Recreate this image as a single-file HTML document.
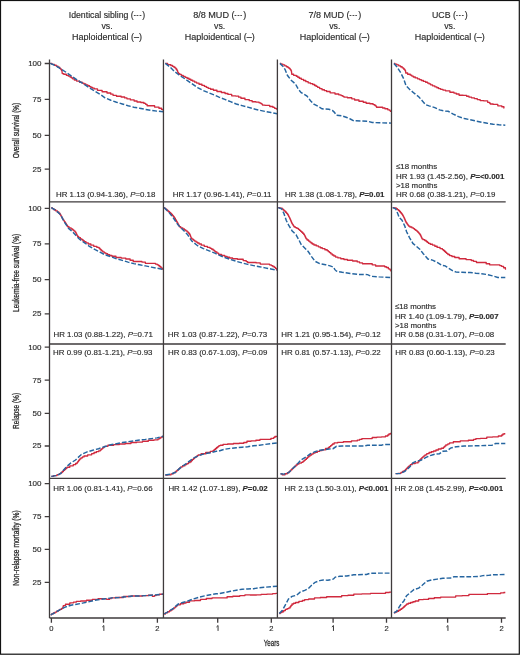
<!DOCTYPE html><html><head><meta charset="utf-8"><style>html,body{margin:0;padding:0;background:#fff;overflow:hidden;}svg{display:block;}text{stroke:#2b2b2b;stroke-width:0.15px;}</style></head><body>
<div style="width:520px;height:655px;will-change:transform;">
<svg width="520" height="655" viewBox="0 0 520 655" font-family="&quot;Liberation Sans&quot;, sans-serif">
<rect x="0" y="0" width="520" height="655" fill="#fff"/>
<text x="107.0" y="17.9" font-size="8.72" text-anchor="middle" fill="#2b2b2b">Identical sibling (<tspan font-size="5.8" font-weight="bold" letter-spacing="0.95" dy="-0.7">---</tspan><tspan dy="0.7">)</tspan></text>
<text x="107.0" y="28.9" font-size="8.8" text-anchor="middle" fill="#2b2b2b">vs.</text>
<text x="107.0" y="39.9" font-size="9.0" text-anchor="middle" fill="#2b2b2b">Haploidentical (–)</text>
<text x="219.7" y="17.9" font-size="9.1" text-anchor="middle" fill="#2b2b2b">8/8 MUD (<tspan font-size="5.8" font-weight="bold" letter-spacing="0.95" dy="-0.7">---</tspan><tspan dy="0.7">)</tspan></text>
<text x="219.7" y="28.9" font-size="8.8" text-anchor="middle" fill="#2b2b2b">vs.</text>
<text x="219.7" y="39.9" font-size="9.0" text-anchor="middle" fill="#2b2b2b">Haploidentical (–)</text>
<text x="334.8" y="17.9" font-size="9.04" text-anchor="middle" fill="#2b2b2b">7/8 MUD (<tspan font-size="5.8" font-weight="bold" letter-spacing="0.95" dy="-0.7">---</tspan><tspan dy="0.7">)</tspan></text>
<text x="334.8" y="28.9" font-size="8.8" text-anchor="middle" fill="#2b2b2b">vs.</text>
<text x="334.8" y="39.9" font-size="9.0" text-anchor="middle" fill="#2b2b2b">Haploidentical (–)</text>
<text x="449.8" y="17.9" font-size="8.8" text-anchor="middle" fill="#2b2b2b">UCB (<tspan font-size="5.8" font-weight="bold" letter-spacing="0.95" dy="-0.7">---</tspan><tspan dy="0.7">)</tspan></text>
<text x="449.8" y="28.9" font-size="8.8" text-anchor="middle" fill="#2b2b2b">vs.</text>
<text x="449.8" y="39.9" font-size="9.0" text-anchor="middle" fill="#2b2b2b">Haploidentical (–)</text>
<text transform="translate(19.3,130.6) rotate(-90) scale(0.713,1)" font-size="9.0" text-anchor="middle" fill="#2b2b2b" style="stroke-width:0.3px">Overall survival (%)</text>
<text transform="translate(19.3,272.9) rotate(-90) scale(0.731,1)" font-size="9.0" text-anchor="middle" fill="#2b2b2b" style="stroke-width:0.3px">Leukemia-free survival (%)</text>
<text transform="translate(19.3,410.9) rotate(-90) scale(0.73,1)" font-size="9.0" text-anchor="middle" fill="#2b2b2b" style="stroke-width:0.3px">Relapse (%)</text>
<text transform="translate(19.3,548.0) rotate(-90) scale(0.74,1)" font-size="9.0" text-anchor="middle" fill="#2b2b2b" style="stroke-width:0.3px">Non-relapse mortality (%)</text>
<path d="M50.20,63.40H51.90V64.30H53.60H54.48V65.20H56.23V66.10H57.10H57.95V67.25H59.65V68.40H60.50H60.85V69.45H61.55V70.50H61.90H61.97V71.53H62.10V72.57H62.23V73.60H62.30H63.75V74.20H65.20H66.35V75.30H67.50H68.35V76.15H70.05V77.00H70.90H71.48V77.90H72.62V78.80H73.20H74.35V79.95H76.65V81.10H77.80H79.55V82.20H81.30H82.17V83.10H83.92V84.00H84.80H85.80V84.85H87.80V85.70H88.80H89.53V86.55H90.97V87.40H91.70H92.58V88.15H94.33V88.90H95.20H97.50V90.30H99.80H102.10V91.70H104.40H107.00V93.00H109.60H110.75V94.15H113.05V95.30H114.20H116.50V96.20H118.80H121.15V97.00H123.50H124.65V97.90H126.95V98.80H128.10H130.40V99.90H132.70H134.15V100.95H137.05V102.00H138.50H140.80V102.50H143.10H143.95V103.40H145.65V104.30H146.50H147.10V105.70H147.70H150.00V105.70H152.30H154.60V107.10H156.90H158.95V108.20H161.00H161.55V109.40H162.10H162.70V109.70H163.30" fill="none" stroke="#d02a3e" stroke-width="1.35" stroke-linejoin="round"/>
<path d="M165.30,63.40H167.60V64.60H169.90H170.78V65.45H172.53V66.30H173.40H173.97V67.20H175.12V68.10H175.70H176.12V69.25H176.97V70.40H177.40H177.55V71.55H177.85V72.70H178.00H178.57V73.55H179.73V74.40H180.30H181.27V75.37H183.20V76.33H185.13V77.30H186.10H187.05V78.27H188.95V79.23H190.85V80.20H191.80H192.77V81.17H194.70V82.13H196.63V83.10H197.60H199.05V84.25H201.95V85.40H203.40H204.35V86.37H206.25V87.33H208.15V88.30H209.10H210.55V89.25H213.45V90.20H214.90H216.95V91.50H219.00H221.30V92.50H223.60H225.05V93.45H227.95V94.40H229.40H231.70V95.80H234.00H235.75V96.10H237.50H238.65V97.15H240.95V98.20H242.10H244.95V99.60H247.80H249.25V100.65H252.15V101.70H253.60H255.90V102.10H258.20H259.07V102.85H260.82V103.60H261.70H261.98V104.35H262.52V105.10H262.80H265.10V105.40H267.40H269.75V106.50H272.10H272.95V107.40H274.65V108.30H275.50H276.35V109.10H277.20" fill="none" stroke="#d02a3e" stroke-width="1.35" stroke-linejoin="round"/>
<path d="M279.90,63.40H280.90V64.15H282.90V64.90H283.90H284.77V65.80H286.52V66.70H287.40H287.97V67.55H289.12V68.40H289.70H290.12V69.55H290.97V70.70H291.40H291.45V71.58H291.55V72.45H291.65V73.33H291.75V74.20H291.80H293.65V75.30H295.50H296.27V76.27H297.80V77.23H299.33V78.20H300.10H301.25V79.35H303.55V80.50H304.70H305.85V81.65H308.15V82.80H309.30H310.45V83.65H312.75V84.50H313.90H314.67V85.47H316.20V86.43H317.73V87.40H318.50H319.68V88.55H322.02V89.70H323.20H324.35V90.60H326.65V91.50H327.80H330.10V92.80H332.40H335.00V94.00H337.60H338.75V94.80H341.05V95.60H342.20H342.77V96.35H343.93V97.10H344.50H347.40V97.70H350.30H351.75V98.85H354.65V100.00H356.10H358.95V101.20H361.80H363.25V102.20H366.15V103.20H367.60H369.90V103.70H372.20H373.07V104.60H374.82V105.50H375.70H375.98V106.35H376.52V107.20H376.80H379.15V107.20H381.50H382.65V107.95H384.95V108.70H386.10H387.80V109.80H389.50H389.80V110.55H390.40V111.30H390.70H391.10V111.30H391.50" fill="none" stroke="#d02a3e" stroke-width="1.35" stroke-linejoin="round"/>
<path d="M393.90,63.40H394.90V64.15H396.90V64.90H397.90H398.77V65.80H400.52V66.70H401.40H402.12V67.85H403.57V69.00H404.30H404.57V69.75H405.12V70.50H405.40H405.50V71.75H405.70V73.00H405.80H407.65V74.20H409.50H410.27V75.13H411.80V76.07H413.33V77.00H414.10H415.25V77.90H417.55V78.80H418.70H419.57V79.65H421.32V80.50H422.20H423.35V81.35H425.65V82.20H426.80H427.57V83.07H429.10V83.93H430.63V84.80H431.40H432.55V85.80H434.85V86.80H436.00H436.88V87.70H438.62V88.60H439.50H440.65V89.35H442.95V90.10H444.10H445.55V90.80H447.00H449.90V92.20H452.80H453.95V93.10H456.25V94.00H457.40H459.10V95.20H460.80H463.15V95.40H465.50H466.65V96.25H468.95V97.10H470.10H471.53V97.85H474.38V98.60H475.80H477.25V99.60H480.15V100.60H481.60H483.90V100.90H486.20H487.65V102.30H489.10H489.53V103.15H490.38V104.00H490.80H493.15V104.40H495.50H497.80V105.80H500.10H501.80V106.70H503.50H503.90V108.10H504.30" fill="none" stroke="#d02a3e" stroke-width="1.35" stroke-linejoin="round"/>
<path d="M51.30,207.60H52.17V208.65H53.92V209.70H54.80H55.65V210.85H57.35V212.00H58.20H58.78V213.25H59.92V214.50H60.50H60.73V215.38H61.17V216.25H61.62V217.12H62.07V218.00H62.30H62.59V218.88H63.16V219.75H63.74V220.62H64.31V221.50H64.60H64.94V222.54H65.62V223.58H66.30V224.62H66.98V225.66H67.66V226.70H68.00H69.03V227.85H71.07V229.00H72.10H72.67V229.93H73.80V230.87H74.93V231.80H75.50H75.73V232.74H76.19V233.68H76.65V234.62H77.11V235.56H77.57V236.50H77.80H78.67V237.65H80.42V238.80H81.30H81.88V239.77H83.05V240.73H84.22V241.70H84.80H85.95V242.85H88.25V244.00H89.40H90.85V245.15H93.75V246.30H95.20H96.90V247.40H98.60H99.04V248.28H99.91V249.15H100.79V250.03H101.66V250.90H102.10H102.82V251.90H104.28V252.90H105.00H105.88V253.75H107.62V254.60H108.50H109.65V255.45H111.95V256.30H113.10H115.95V257.50H118.80H121.15V258.10H123.50H125.80V259.00H128.10H130.10V260.20H132.10H133.25V261.50H134.40H137.00V261.50H139.60H141.90V262.10H144.20H145.35V263.30H146.50H150.55V263.30H154.60H155.47V264.05H157.22V264.80H158.10H158.68V265.75H159.82V266.70H160.40H160.97V267.85H162.12V269.00H162.70H163.05V269.20H163.40" fill="none" stroke="#d02a3e" stroke-width="1.35" stroke-linejoin="round"/>
<path d="M164.20,207.60H164.77V208.57H165.90V209.53H167.03V210.50H167.60H168.18V211.47H169.35V212.43H170.52V213.40H171.10H171.53V214.40H172.38V215.40H173.22V216.40H174.07V217.40H174.50H174.79V218.43H175.36V219.45H175.94V220.47H176.51V221.50H176.80H177.09V222.54H177.67V223.58H178.25V224.62H178.83V225.66H179.41V226.70H179.70H180.72V227.85H182.78V229.00H183.80H184.47V229.93H185.80V230.87H187.13V231.80H187.80H188.18V232.77H188.95V233.73H189.72V234.70H190.10H190.25V235.57H190.55V236.45H190.85V237.32H191.15V238.20H191.30H191.97V239.17H193.30V240.13H194.63V241.10H195.30H196.07V242.07H197.60V243.03H199.13V244.00H199.90H201.35V245.15H204.25V246.30H205.70H207.45V247.40H209.20H210.05V248.30H211.75V249.20H212.60H213.18V250.13H214.35V251.07H215.52V252.00H216.10H216.95V253.15H218.65V254.30H219.50H221.55V255.50H223.60H224.75V256.35H227.05V257.20H228.20H229.65V257.95H232.55V258.70H234.00H237.45V259.20H240.90H243.20V260.60H245.50H246.22V261.55H247.68V262.50H248.40H251.00V262.50H253.60H256.20V262.90H258.80H260.25V264.10H261.70H265.15V264.10H268.60H269.48V264.85H271.23V265.60H272.10H272.83V266.45H274.27V267.30H275.00H275.57V268.55H276.73V269.80H277.30" fill="none" stroke="#d02a3e" stroke-width="1.35" stroke-linejoin="round"/>
<path d="M278.20,207.60H279.90V208.20H281.60H282.18V209.17H283.35V210.13H284.52V211.10H285.10H285.58V212.23H286.55V213.37H287.52V214.50H288.00H288.23V215.44H288.69V216.38H289.15V217.32H289.61V218.26H290.07V219.20H290.30H290.51V220.20H290.94V221.20H291.36V222.20H291.79V223.20H292.00H292.29V224.07H292.86V224.95H293.44V225.82H294.01V226.70H294.30H295.18V227.55H296.93V228.40H297.80H298.37V229.37H299.50V230.33H300.63V231.30H301.20H301.68V232.27H302.65V233.23H303.62V234.20H304.10H304.33V235.12H304.79V236.04H305.25V236.96H305.71V237.88H306.17V238.80H306.40H307.12V239.95H308.57V241.10H309.30H309.88V242.07H311.05V243.03H312.22V244.00H312.80H313.95V244.95H316.25V245.90H317.40H318.37V246.80H320.30V247.70H322.23V248.60H323.20H324.90V249.70H326.60H327.18V250.67H328.35V251.63H329.52V252.60H330.10H330.83V253.80H332.27V255.00H333.00H333.88V256.05H335.62V257.10H336.50H337.93V257.90H340.77V258.70H342.20H343.95V259.45H347.45V260.20H349.20H352.65V261.00H356.10H357.25V261.90H359.55V262.80H360.70H362.45V263.70H364.20H367.05V263.70H369.90H372.20V264.80H374.50H375.65V266.00H376.80H380.30V266.00H383.80H384.65V266.75H386.35V267.50H387.20H388.35V268.80H389.50H389.95V269.85H390.85V270.90H391.30" fill="none" stroke="#d02a3e" stroke-width="1.35" stroke-linejoin="round"/>
<path d="M392.70,207.60H394.15V207.80H395.60H396.18V208.70H397.35V209.60H398.52V210.50H399.10H399.53V211.50H400.38V212.50H401.23V213.50H402.07V214.50H402.50H402.73V215.38H403.18V216.25H403.62V217.12H404.07V218.00H404.30H404.51V219.00H404.94V220.00H405.36V221.00H405.79V222.00H406.00H406.36V223.03H407.09V224.05H407.81V225.07H408.54V226.10H408.90H409.90V226.95H411.90V227.80H412.90H413.47V228.68H414.62V229.55H415.77V230.43H416.93V231.30H417.50H417.98V232.43H418.95V233.57H419.92V234.70H420.40H420.62V235.72H421.07V236.75H421.52V237.78H421.97V238.80H422.20H423.05V239.65H424.75V240.50H425.60H426.18V241.47H427.35V242.43H428.52V243.40H429.10H430.25V244.25H432.55V245.10H433.70H434.85V246.25H437.15V247.40H438.30H440.05V248.60H441.80H442.37V249.57H443.50V250.53H444.63V251.50H445.20H445.65V252.40H446.55V253.30H447.00H447.88V254.45H449.62V255.60H450.50H451.93V256.55H454.77V257.50H456.20H459.10V258.70H462.00H466.05V259.60H470.10H471.25V260.45H473.55V261.30H474.70H476.45V262.50H478.20H481.05V262.50H483.90H486.20V263.70H488.50H489.65V264.80H490.80H494.85V264.80H498.90H499.77V265.55H501.52V266.30H502.40H503.55V267.70H504.70H505.40V269.10H506.10" fill="none" stroke="#d02a3e" stroke-width="1.35" stroke-linejoin="round"/>
<path d="M51.30,476.40H53.60V475.60H55.90H57.05V474.60H59.35V473.60H60.50H61.08V472.53H62.25V471.47H63.42V470.40H64.00H64.58V469.33H65.75V468.27H66.92V467.20H67.50H69.80V465.80H72.10H73.25V464.65H75.55V463.50H76.70H77.05V462.56H77.75V461.62H78.45V460.68H79.15V459.74H79.85V458.80H80.20H80.97V457.87H82.50V456.93H84.03V456.00H84.80H87.65V454.80H90.50H91.67V453.65H94.03V452.50H95.20H96.35V451.65H98.65V450.80H99.80H100.37V449.83H101.50V448.87H102.63V447.90H103.20H103.65V447.10H104.55V446.30H105.00H107.90V445.20H110.80H113.65V444.60H116.50H119.40V444.00H122.30H125.20V443.50H128.10H130.95V442.50H133.80H136.70V442.10H139.60H142.50V441.20H145.40H148.30V440.20H151.20H154.05V439.80H156.90H158.05V438.80H159.20H159.77V437.95H160.93V437.10H161.50H162.40V436.30H163.30" fill="none" stroke="#d02a3e" stroke-width="1.35" stroke-linejoin="round"/>
<path d="M165.30,475.00H167.60V474.80H169.90H171.05V473.85H173.35V472.90H174.50H175.08V471.87H176.25V470.83H177.42V469.80H178.00H178.58V468.83H179.75V467.87H180.92V466.90H181.50H182.65V465.75H184.95V464.60H186.10H186.87V463.63H188.40V462.67H189.93V461.70H190.70H191.28V460.57H192.45V459.43H193.62V458.30H194.20H194.77V457.43H195.93V456.55H197.07V455.68H198.23V454.80H198.80H201.10V453.70H203.40H205.70V452.50H208.00H210.30V451.30H212.60H213.18V450.37H214.35V449.43H215.52V448.50H216.10H216.67V447.53H217.80V446.57H218.93V445.60H219.50H220.40V445.20H221.30H223.05V444.40H224.80H227.65V444.00H230.50H233.40V443.50H236.30H239.20V443.20H242.10H243.80V442.50H245.50H246.95V441.20H248.40H251.00V440.90H253.60H255.90V440.20H258.20H259.95V439.40H261.70H265.15V439.40H268.60H270.90V438.30H273.20H273.77V437.40H274.93V436.50H275.50H276.40V436.50H277.30" fill="none" stroke="#d02a3e" stroke-width="1.35" stroke-linejoin="round"/>
<path d="M280.50,473.80H282.20V474.80H283.90H285.05V473.75H287.35V472.70H288.50H288.97V471.78H289.91V470.86H290.85V469.94H291.79V469.02H292.73V468.10H293.20H293.77V467.08H294.93V466.05H296.07V465.02H297.23V464.00H297.80H298.95V463.15H301.25V462.30H302.40H302.97V461.33H304.10V460.37H305.23V459.40H305.80H306.38V458.27H307.55V457.13H308.72V456.00H309.30H310.07V455.03H311.60V454.07H313.13V453.10H313.90H315.05V452.20H317.35V451.30H318.50H319.68V450.55H322.02V449.80H323.20H325.50V448.50H327.80H328.37V447.53H329.50V446.57H330.63V445.60H331.20H331.65V444.80H332.55V444.00H333.00H334.15V442.90H335.30H337.60V442.30H339.90H343.35V441.70H346.80H351.45V440.90H356.10H357.25V440.15H359.55V439.40H360.70H361.85V438.60H363.00H366.45V438.60H369.90H372.20V437.50H374.50H376.85V437.10H379.20H381.50V436.80H383.80H385.50V436.00H387.20H387.77V435.00H388.93V434.00H389.50H390.40V433.30H391.30" fill="none" stroke="#d02a3e" stroke-width="1.35" stroke-linejoin="round"/>
<path d="M395.60,473.60H397.90V473.30H400.20H400.97V472.40H402.50V471.50H404.03V470.60H404.80H405.27V469.64H406.21V468.68H407.15V467.72H408.09V466.76H409.03V465.80H409.50H410.35V464.65H412.05V463.50H412.90H415.20V462.90H417.50H417.94V461.88H418.81V460.85H419.69V459.82H420.56V458.80H421.00H421.57V457.80H422.73V456.80H423.88V455.80H425.03V454.80H425.60H426.75V453.65H429.05V452.50H430.20H431.35V451.75H433.65V451.00H434.80H435.98V450.00H438.32V449.00H439.50H441.20V448.20H442.90H443.48V447.13H444.65V446.07H445.82V445.00H446.40H446.70V444.80H447.00H447.88V443.85H449.62V442.90H450.50H453.35V441.70H456.20H460.25V440.90H464.30H468.35V440.20H472.40H473.55V439.40H475.85V438.60H477.00H480.45V438.30H483.90H486.80V437.10H489.70H492.60V436.80H495.50H498.35V436.00H501.20H501.77V435.00H502.93V434.00H503.50H504.40V433.70H505.30" fill="none" stroke="#d02a3e" stroke-width="1.35" stroke-linejoin="round"/>
<path d="M50.70,614.80H51.57V613.90H53.30V613.00H55.03V612.10H55.90H56.67V611.20H58.20V610.30H59.73V609.40H60.50H61.65V608.30H62.80H62.90V607.40H63.10V606.50H63.30V605.60H63.40H65.45V604.20H67.50H69.80V602.80H72.10H73.52V602.05H76.38V601.30H77.80H80.70V601.00H83.60H86.50V600.20H89.40H92.30V599.40H95.20H98.05V598.70H100.90H102.95V598.80H105.00H106.75V599.40H108.50H109.35V598.65H111.05V597.90H111.90H115.35V597.50H118.80H123.45V596.50H128.10H130.95V596.00H133.80H136.70V596.00H139.60H142.50V595.60H145.40H148.30V595.20H151.20H152.35V596.30H153.50H154.35V595.55H156.05V594.80H156.90H159.50V594.20H162.10H162.70V594.10H163.30" fill="none" stroke="#d02a3e" stroke-width="1.35" stroke-linejoin="round"/>
<path d="M164.20,614.00H165.35V612.85H167.65V611.70H168.80H169.57V610.73H171.10V609.77H172.63V608.80H173.40H173.97V607.80H175.12V606.80H175.70H176.27V605.80H177.43V604.80H178.00H180.30V603.70H182.60H183.75V602.95H186.05V602.20H187.20H189.50V600.80H191.80H194.70V600.50H197.60H200.50V599.40H203.40H206.30V598.50H209.20H212.05V597.90H214.90H219.85V597.90H224.80H227.10V596.70H229.40H232.85V596.20H236.30H239.75V595.60H243.20H244.95V594.80H246.70H250.15V595.00H253.60H256.50V594.80H259.40H261.10V594.40H262.80H266.85V594.10H270.90H272.65V593.60H274.40H275.85V593.30H277.30" fill="none" stroke="#d02a3e" stroke-width="1.35" stroke-linejoin="round"/>
<path d="M279.30,613.50H280.18V612.60H281.93V611.70H282.80H283.65V610.55H285.35V609.40H286.20H287.07V608.65H288.82V607.90H289.70H290.12V606.65H290.97V605.40H291.40H292.00V604.00H292.60H293.60V603.25H295.60V602.50H296.60H298.90V601.30H301.20H302.35V600.45H304.65V599.60H305.80H308.70V599.00H311.60H314.50V597.90H317.40H320.30V597.50H323.20H326.65V596.70H330.10H334.45V596.70H338.80H341.65V595.60H344.50H348.00V595.20H351.50H353.80V594.10H356.10H361.85V593.80H367.60H370.50V593.30H373.40H378.60V593.30H383.80H385.50V592.50H387.20H389.25V592.10H391.30" fill="none" stroke="#d02a3e" stroke-width="1.35" stroke-linejoin="round"/>
<path d="M393.90,612.90H394.90V612.05H396.90V611.20H397.90H398.67V610.23H400.20V609.27H401.73V608.30H402.50H402.98V607.40H403.95V606.50H404.92V605.60H405.40H405.85V604.80H406.75V604.00H407.20H408.35V603.25H410.65V602.50H411.80H412.95V601.75H415.25V601.00H416.40H418.70V599.60H421.00H423.30V599.40H425.60H428.50V598.50H431.40H434.30V597.70H437.20H440.65V597.10H444.10H449.00V597.10H453.90H455.65V595.90H457.40H462.00V595.60H466.60H468.90V594.40H471.20H478.70V594.40H486.20H487.35V593.60H488.50H493.70V593.60H498.90H500.65V592.90H502.40H503.85V592.50H505.30" fill="none" stroke="#d02a3e" stroke-width="1.35" stroke-linejoin="round"/>
<polyline points="50.2,63.4 55.9,65.8 61.7,69.5 66.3,72.4 72.1,76.5 77.8,80.5 83.6,84.0 89.4,87.8 95.2,91.5 100.9,94.9 105.0,97.8 110.8,100.2 116.5,102.2 122.3,104.0 128.1,105.7 133.8,107.2 139.6,108.2 145.4,109.4 151.2,110.3 156.9,111.1 163.3,111.7" fill="none" stroke="#2565a0" stroke-width="1.45" stroke-dasharray="4.8 1.9"/>
<polyline points="165.3,63.4 169.9,66.9 174.5,71.5 179.1,75.0 186.1,79.6 191.8,83.6 197.6,87.7 203.4,90.6 209.1,92.9 214.9,95.2 219.0,97.1 224.8,99.4 230.5,101.7 236.3,104.0 242.1,105.6 247.8,107.1 253.6,108.8 259.4,110.2 265.1,111.4 270.9,112.5 277.2,113.7" fill="none" stroke="#2565a0" stroke-width="1.45" stroke-dasharray="4.8 1.9"/>
<polyline points="279.9,63.4 282.8,66.1 285.1,69.5 287.4,75.3 290.8,79.9 295.5,84.0 298.3,89.2 301.2,92.6 307.0,96.1 310.5,100.7 313.9,104.2 318.5,106.5 322.0,108.8 328.9,109.3 332.4,110.5 334.2,112.1 336.5,115.2 342.2,115.9 346.8,117.5 350.3,119.0 353.8,120.8 361.8,121.0 367.6,121.3 372.2,122.5 379.2,122.8 391.5,123.1" fill="none" stroke="#2565a0" stroke-width="1.45" stroke-dasharray="4.8 1.9"/>
<polyline points="393.9,63.4 396.8,66.7 400.2,71.8 403.7,78.8 406.0,85.7 409.5,89.2 414.1,93.2 418.7,96.7 422.2,100.7 425.6,104.7 429.1,105.9 434.8,107.6 439.5,109.9 445.2,111.1 448.2,111.3 452.8,113.8 458.5,116.7 464.3,118.5 470.1,119.8 475.8,121.0 481.6,122.2 487.4,123.3 493.2,124.2 498.9,124.8 505.3,125.2" fill="none" stroke="#2565a0" stroke-width="1.45" stroke-dasharray="4.8 1.9"/>
<polyline points="51.3,207.6 55.9,210.5 60.5,214.5 64.0,221.5 68.6,228.4 73.2,232.4 79.0,238.8 83.6,242.2 89.4,246.3 95.2,249.7 100.9,252.6 105.0,254.8 110.8,256.7 116.5,258.7 122.3,260.4 128.1,262.1 133.8,263.6 139.6,264.8 145.4,265.9 151.2,267.1 156.9,268.2 163.3,269.4" fill="none" stroke="#2565a0" stroke-width="1.45" stroke-dasharray="4.8 1.9"/>
<polyline points="164.2,207.6 168.8,212.2 173.4,218.0 178.0,224.9 182.6,229.5 187.2,234.2 191.8,241.1 197.6,245.7 203.4,248.6 209.2,250.9 214.9,253.2 219.0,255.2 224.8,257.5 230.5,259.5 236.3,261.3 242.1,262.9 247.8,264.4 253.6,265.6 259.4,266.7 265.1,267.9 270.9,269.0 277.3,270.2" fill="none" stroke="#2565a0" stroke-width="1.45" stroke-dasharray="4.8 1.9"/>
<polyline points="278.2,207.6 281.6,208.8 283.9,213.4 286.2,220.3 288.5,224.9 292.0,230.7 296.0,234.7 298.9,239.9 301.2,244.5 304.7,248.0 308.2,251.5 311.6,256.7 315.1,261.3 319.7,263.6 325.5,264.7 330.1,265.9 333.6,267.1 334.7,269.4 336.5,271.2 342.2,272.3 350.3,273.5 358.4,274.4 367.6,274.6 371.1,276.3 379.2,276.9 391.3,277.5" fill="none" stroke="#2565a0" stroke-width="1.45" stroke-dasharray="4.8 1.9"/>
<polyline points="392.7,207.6 395.6,208.8 397.9,214.0 399.1,217.4 402.0,220.3 404.8,226.1 406.6,231.8 409.5,237.6 412.9,243.4 416.4,246.3 419.8,249.2 423.3,253.8 427.9,259.0 432.5,260.1 437.2,262.4 441.8,265.3 445.2,265.9 447.0,267.1 451.6,270.2 456.2,272.1 462.0,272.3 470.1,272.5 475.8,273.2 481.6,273.7 487.4,274.6 493.2,276.0 497.8,277.5 505.3,277.5" fill="none" stroke="#2565a0" stroke-width="1.45" stroke-dasharray="4.8 1.9"/>
<polyline points="51.3,476.4 55.9,475.6 60.5,473.6 66.3,466.9 70.9,462.9 75.5,460.0 81.3,454.5 87.1,451.9 92.8,450.2 98.6,448.7 104.4,446.7 110.8,444.8 116.5,443.7 122.3,442.5 128.1,441.7 133.8,440.9 139.6,440.0 145.4,439.4 151.2,438.6 156.9,437.9 163.3,436.3" fill="none" stroke="#2565a0" stroke-width="1.45" stroke-dasharray="4.8 1.9"/>
<polyline points="165.3,475.0 171.1,474.1 175.7,472.1 181.5,466.7 187.2,462.9 193.0,458.3 198.8,455.6 204.5,453.7 210.3,452.8 216.1,451.3 219.0,451.0 224.8,449.2 230.5,448.3 236.3,447.8 242.1,447.2 247.8,446.7 253.6,445.8 259.4,445.2 265.1,444.4 270.9,443.7 277.3,442.9" fill="none" stroke="#2565a0" stroke-width="1.45" stroke-dasharray="4.8 1.9"/>
<polyline points="280.5,473.8 283.9,474.1 288.5,472.7 293.2,468.1 297.8,463.5 301.2,459.8 305.8,457.1 310.5,453.7 315.1,451.7 319.7,450.2 324.3,449.8 328.9,449.0 333.0,448.7 336.5,446.3 342.2,446.0 364.2,446.0 367.6,445.2 381.5,445.2 383.8,444.4 391.3,444.4" fill="none" stroke="#2565a0" stroke-width="1.45" stroke-dasharray="4.8 1.9"/>
<polyline points="395.6,473.6 400.2,473.6 404.8,471.3 409.5,467.2 412.9,462.9 416.4,461.2 421.0,460.2 425.6,457.7 430.2,455.6 434.8,454.2 439.5,453.7 442.9,451.3 447.0,451.0 450.5,448.1 456.2,446.7 464.3,446.0 475.8,445.8 485.1,445.5 492.0,445.2 495.5,443.5 505.3,443.5" fill="none" stroke="#2565a0" stroke-width="1.45" stroke-dasharray="4.8 1.9"/>
<polyline points="50.7,614.8 55.9,612.1 60.5,609.4 65.2,607.1 70.9,605.2 76.7,604.2 82.5,603.1 88.2,601.9 94.0,600.5 99.8,599.4 105.0,598.8 111.9,597.9 118.8,597.5 128.1,596.5 133.8,596.0 139.6,596.0 145.4,595.6 151.2,595.2 156.9,594.8 163.3,594.1" fill="none" stroke="#2565a0" stroke-width="1.45" stroke-dasharray="4.8 1.9"/>
<polyline points="164.2,614.0 168.8,611.2 173.4,608.3 178.0,604.2 182.6,602.5 187.2,601.3 193.0,599.0 198.8,597.3 204.5,595.9 210.3,594.8 216.1,593.8 219.0,593.6 224.8,592.5 230.5,591.3 236.3,590.2 242.1,589.2 247.8,589.0 253.6,588.7 259.4,587.8 265.1,587.2 270.9,586.7 277.3,586.3" fill="none" stroke="#2565a0" stroke-width="1.45" stroke-dasharray="4.8 1.9"/>
<polyline points="279.3,613.5 282.2,610.6 285.1,605.4 288.5,599.0 292.0,596.4 296.6,595.2 300.1,592.1 304.7,590.4 308.2,588.7 311.6,585.2 315.1,582.3 319.7,580.6 323.2,580.0 327.8,580.2 332.4,579.4 333.5,579.0 335.3,577.1 339.9,576.3 346.8,576.0 353.8,574.8 366.5,574.5 369.9,573.3 379.2,573.1 391.3,573.1" fill="none" stroke="#2565a0" stroke-width="1.45" stroke-dasharray="4.8 1.9"/>
<polyline points="393.9,612.9 396.8,611.2 399.1,607.1 401.4,603.7 403.7,601.3 406.6,595.6 409.5,593.3 414.1,589.5 418.7,588.1 422.2,585.2 426.8,581.2 431.4,580.0 437.2,579.1 442.9,578.3 451.6,577.9 453.9,576.8 464.3,576.8 479.3,576.5 482.8,575.6 488.5,575.4 493.2,574.8 505.3,574.5" fill="none" stroke="#2565a0" stroke-width="1.45" stroke-dasharray="4.8 1.9"/>
<path d="M49.5,59.6V618.0M163.45,59.6V618.0M277.4,59.6V618.0M391.5,59.6V618.0M49.5,201.8H505.7M49.5,344.0H505.7M49.5,478.4H505.7M49.5,618.0H505.7M44.7,63.5H49.5M44.7,99.35H49.5M44.7,135.3H49.5M44.7,169.2H49.5M44.7,208.4H49.5M44.7,243.9H49.5M44.7,279.6H49.5M44.7,313.9H49.5M44.7,347.2H49.5M44.7,380.2H49.5M44.7,413.3H49.5M44.7,446.0H49.5M44.7,483.7H49.5M44.7,516.6H49.5M44.7,549.4H49.5M44.7,582.3H49.5M51.4,618.0V622.7M103.5,618.0V622.7M157.4,618.0V622.7M217.7,618.0V622.7M271.3,618.0V622.7M333.1,618.0V622.7M386.5,618.0V622.7M447.6,618.0V622.7M501.5,618.0V622.7" stroke="#3f3b3c" stroke-width="1.3" fill="none"/>
<text x="41.5" y="65.9" font-size="8" text-anchor="end" fill="#2b2b2b">100</text>
<text x="41.5" y="101.8" font-size="8" text-anchor="end" fill="#2b2b2b">75</text>
<text x="41.5" y="137.7" font-size="8" text-anchor="end" fill="#2b2b2b">50</text>
<text x="41.5" y="171.6" font-size="8" text-anchor="end" fill="#2b2b2b">25</text>
<text x="41.5" y="210.8" font-size="8" text-anchor="end" fill="#2b2b2b">100</text>
<text x="41.5" y="246.3" font-size="8" text-anchor="end" fill="#2b2b2b">75</text>
<text x="41.5" y="282.0" font-size="8" text-anchor="end" fill="#2b2b2b">50</text>
<text x="41.5" y="316.3" font-size="8" text-anchor="end" fill="#2b2b2b">25</text>
<text x="41.5" y="349.6" font-size="8" text-anchor="end" fill="#2b2b2b">100</text>
<text x="41.5" y="382.6" font-size="8" text-anchor="end" fill="#2b2b2b">75</text>
<text x="41.5" y="415.7" font-size="8" text-anchor="end" fill="#2b2b2b">50</text>
<text x="41.5" y="448.4" font-size="8" text-anchor="end" fill="#2b2b2b">25</text>
<text x="41.5" y="486.1" font-size="8" text-anchor="end" fill="#2b2b2b">100</text>
<text x="41.5" y="519.0" font-size="8" text-anchor="end" fill="#2b2b2b">75</text>
<text x="41.5" y="551.8" font-size="8" text-anchor="end" fill="#2b2b2b">50</text>
<text x="41.5" y="584.7" font-size="8" text-anchor="end" fill="#2b2b2b">25</text>
<text x="51.4" y="630.8" font-size="7.6" text-anchor="middle" fill="#2b2b2b">0</text>
<text x="157.4" y="630.8" font-size="7.6" text-anchor="middle" fill="#2b2b2b">2</text>
<text x="271.3" y="630.8" font-size="7.6" text-anchor="middle" fill="#2b2b2b">2</text>
<text x="386.5" y="630.8" font-size="7.6" text-anchor="middle" fill="#2b2b2b">2</text>
<text x="501.5" y="630.8" font-size="7.6" text-anchor="middle" fill="#2b2b2b">2</text>
<path d="M102.25,627.0L103.85,625.5V630.9M216.45,627.0L218.05,625.5V630.9M331.85,627.0L333.45,625.5V630.9M446.35,627.0L447.95,625.5V630.9" stroke="#2b2b2b" stroke-width="0.95" fill="none"/>
<text transform="translate(271.5,645.8) scale(0.63,1)" font-size="9.8" text-anchor="middle" fill="#2b2b2b" style="stroke-width:0.3px">Years</text>
<text x="56.0" y="196.8" font-size="7.9" fill="#2b2b2b">HR 1.13 (0.94-1.36), <tspan font-style="italic">P</tspan>=0.18</text>
<text x="172.7" y="196.8" font-size="7.9" fill="#2b2b2b">HR 1.17 (0.96-1.41), <tspan font-style="italic">P</tspan>=0.11</text>
<text x="285.1" y="196.8" font-size="7.9" fill="#2b2b2b">HR 1.38 (1.08-1.78), <tspan font-weight="bold"><tspan font-style="italic">P</tspan>=0.01</tspan></text>
<text x="396.0" y="169.2" font-size="7.9" fill="#2b2b2b">≤18 months</text>
<text x="396.0" y="178.5" font-size="7.9" fill="#2b2b2b">HR 1.93 (1.45-2.56), <tspan font-weight="bold"><tspan font-style="italic">P</tspan>=&lt;0.001</tspan></text>
<text x="396.0" y="187.7" font-size="7.9" fill="#2b2b2b">&gt;18 months</text>
<text x="396.0" y="196.8" font-size="7.9" fill="#2b2b2b">HR 0.68 (0.38-1.21), <tspan font-style="italic">P</tspan>=0.19</text>
<text x="53.5" y="336.8" font-size="7.9" fill="#2b2b2b">HR 1.03 (0.88-1.22), <tspan font-style="italic">P</tspan>=0.71</text>
<text x="167.8" y="336.8" font-size="7.9" fill="#2b2b2b">HR 1.03 (0.87-1.22), <tspan font-style="italic">P</tspan>=0.73</text>
<text x="281.3" y="336.8" font-size="7.9" fill="#2b2b2b">HR 1.21 (0.95-1.54), <tspan font-style="italic">P</tspan>=0.12</text>
<text x="394.9" y="309.0" font-size="7.9" fill="#2b2b2b">≤18 months</text>
<text x="394.9" y="318.5" font-size="7.9" fill="#2b2b2b">HR 1.40 (1.09-1.79), <tspan font-weight="bold"><tspan font-style="italic">P</tspan>=0.007</tspan></text>
<text x="394.9" y="327.7" font-size="7.9" fill="#2b2b2b">&gt;18 months</text>
<text x="394.9" y="336.8" font-size="7.9" fill="#2b2b2b">HR 0.58 (0.31-1.07), <tspan font-style="italic">P</tspan>=0.08</text>
<text x="53.1" y="354.9" font-size="7.9" fill="#2b2b2b">HR 0.99 (0.81-1.21), <tspan font-style="italic">P</tspan>=0.93</text>
<text x="168.0" y="354.9" font-size="7.9" fill="#2b2b2b">HR 0.83 (0.67-1.03), <tspan font-style="italic">P</tspan>=0.09</text>
<text x="281.3" y="354.9" font-size="7.9" fill="#2b2b2b">HR 0.81 (0.57-1.13), <tspan font-style="italic">P</tspan>=0.22</text>
<text x="395.3" y="354.9" font-size="7.9" fill="#2b2b2b">HR 0.83 (0.60-1.13), <tspan font-style="italic">P</tspan>=0.23</text>
<text x="53.2" y="490.5" font-size="7.9" fill="#2b2b2b">HR 1.06 (0.81-1.41), <tspan font-style="italic">P</tspan>=0.66</text>
<text x="168.4" y="490.5" font-size="7.9" fill="#2b2b2b">HR 1.42 (1.07-1.89), <tspan font-weight="bold"><tspan font-style="italic">P</tspan>=0.02</tspan></text>
<text x="284.6" y="490.5" font-size="7.9" fill="#2b2b2b">HR 2.13 (1.50-3.01), <tspan font-weight="bold"><tspan font-style="italic">P</tspan>&lt;0.001</tspan></text>
<text x="394.7" y="490.5" font-size="7.9" fill="#2b2b2b">HR 2.08 (1.45-2.99), <tspan font-weight="bold"><tspan font-style="italic">P</tspan>=&lt;0.001</tspan></text>
<rect x="0.5" y="0.5" width="518.8" height="653.7" fill="none" stroke="#111" stroke-width="1.2"/>
</svg></div></body></html>
